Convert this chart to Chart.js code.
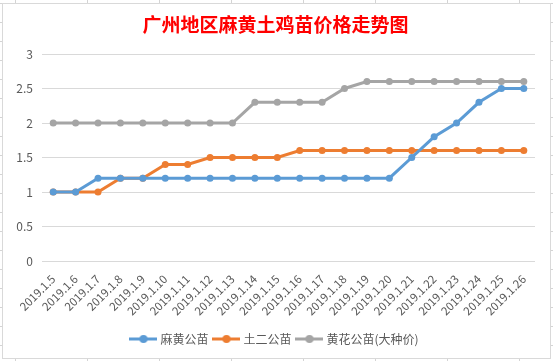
<!DOCTYPE html>
<html>
<head>
<meta charset="utf-8">
<script src="https://cdn.jsdelivr.net/npm/chart.js@4.4.1/dist/chart.umd.min.js"></script>
<style>
  html, body { margin: 0; padding: 0; background: #fff; }
  #wrap { width: 553px; height: 361px; position: relative; }
</style>
</head>
<body>
<div id="wrap"><canvas id="priceChart" width="553" height="361"></canvas></div>
<script>
// chart data
const dates = ['2019.1.5', '2019.1.6', '2019.1.7', '2019.1.8', '2019.1.9', '2019.1.10', '2019.1.11',
    '2019.1.12', '2019.1.13', '2019.1.14', '2019.1.15', '2019.1.16', '2019.1.17', '2019.1.18',
    '2019.1.19', '2019.1.20', '2019.1.21', '2019.1.22', '2019.1.23', '2019.1.24', '2019.1.25', '2019.1.26'];
const mahuang = [1, 1, 1.2, 1.2, 1.2, 1.2, 1.2, 1.2, 1.2, 1.2, 1.2, 1.2, 1.2, 1.2, 1.2, 1.2, 1.5, 1.8, 2.0, 2.3, 2.5, 2.5];
const tuer = [1, 1, 1, 1.2, 1.2, 1.4, 1.4, 1.5, 1.5, 1.5, 1.5, 1.6, 1.6, 1.6, 1.6, 1.6, 1.6, 1.6, 1.6, 1.6, 1.6, 1.6];
const huanghua = [2, 2, 2, 2, 2, 2, 2, 2, 2, 2.3, 2.3, 2.3, 2.3, 2.5, 2.6, 2.6, 2.6, 2.6, 2.6, 2.6, 2.6, 2.6];
const seriesNames = ['麻黄公苗', '土二公苗', '黄花公苗(大种价)'];
const seriesColors = ['#5B9BD5', '#ED7D31', '#A5A5A5'];

const CJK = '"Noto Sans CJK SC", "Noto Sans", sans-serif';

// legend marker: short line with a dot, like Excel
function legendMarker(color) {
    const c = document.createElement('canvas');
    c.width = 28;
    c.height = 10;
    const g = c.getContext('2d');
    g.strokeStyle = color;
    g.lineWidth = 3;
    g.beginPath();
    g.moveTo(0, 5);
    g.lineTo(28, 5);
    g.stroke();
    g.fillStyle = color;
    g.beginPath();
    g.arc(14, 5, 4, 0, Math.PI * 2);
    g.fill();
    return c;
}
const markers = seriesColors.map(legendMarker);

// spreadsheet behind the chart object
const sheetBackground = {
    id: 'sheetBackground',
    beforeDraw(chart) {
        const ctx = chart.ctx;
        ctx.save();
        ctx.fillStyle = '#fff';
        ctx.fillRect(0, 0, chart.width, chart.height);
        ctx.strokeStyle = '#D4D4D4';
        ctx.lineWidth = 1;
        for (let x = 15.5; x < chart.width; x += 72) {
            ctx.beginPath();
            ctx.moveTo(x, 0);
            ctx.lineTo(x, chart.height);
            ctx.stroke();
        }
        for (let y = 3.5; y < chart.height; y += 19) {
            ctx.beginPath();
            ctx.moveTo(0, y);
            ctx.lineTo(chart.width, y);
            ctx.stroke();
        }
        ctx.fillStyle = '#fff';
        ctx.fillRect(3, 4, 547, 354);
        ctx.strokeStyle = '#D9D9D9';
        ctx.strokeRect(2.5, 3.5, 548, 355);
        ctx.restore();
    }
};

function makeDataset(label, data, color) {
    return {
        label: label,
        data: data,
        borderColor: color,
        backgroundColor: color,
        borderWidth: 3,
        pointStyle: 'circle',
        pointRadius: 3.5,
        pointHoverRadius: 4,
        pointBackgroundColor: color,
        pointBorderWidth: 0,
        tension: 0,
        fill: false
    };
}

const ctx = document.getElementById('priceChart').getContext('2d');
const priceChart = new Chart(ctx, {
    type: 'line',
    data: {
        labels: dates,
        datasets: [
            makeDataset(seriesNames[0], mahuang, seriesColors[0]),
            makeDataset(seriesNames[1], tuer, seriesColors[1]),
            makeDataset(seriesNames[2], huanghua, seriesColors[2])
        ]
    },
    options: {
        responsive: false,
        animation: false,
        devicePixelRatio: 1,
        layout: { padding: { left: 16, right: 18, top: 0, bottom: 6 } },
        plugins: {
            title: {
                display: true,
                text: '广州地区麻黄土鸡苗价格走势图',
                color: '#FF0000',
                font: { family: CJK, size: 19, weight: 'bold' },
                padding: { top: 13, bottom: 18.2 }
            },
            legend: {
                position: 'bottom',
                labels: {
                    usePointStyle: true,
                    pointStyleWidth: 22,
                    padding: 7,
                    color: '#595959',
                    font: { family: CJK, size: 12 },
                    generateLabels(chart) {
                        return chart.data.datasets.map((ds, i) => ({
                            text: ds.label,
                            fontColor: '#595959',
                            pointStyle: markers[i],
                            strokeStyle: ds.borderColor,
                            fillStyle: ds.borderColor,
                            lineWidth: 0,
                            hidden: false,
                            datasetIndex: i
                        }));
                    }
                }
            },
            tooltip: { enabled: false }
        },
        scales: {
            x: {
                offset: true,
                grid: { display: false, drawTicks: false },
                border: { display: false },
                ticks: {
                    autoSkip: false,
                    minRotation: 45,
                    maxRotation: 45,
                    padding: 11,
                    color: '#595959',
                    font: { family: CJK, size: 11.5 }
                },
                afterFit(scale) { scale.height = 65; }
            },
            y: {
                min: 0,
                max: 3,
                grid: { color: '#D9D9D9', lineWidth: 1, drawTicks: false },
                border: { display: false },
                ticks: {
                    stepSize: 0.5,
                    padding: 9,
                    color: '#595959',
                    font: { family: CJK, size: 12 },
                    callback: (v) => String(v)
                },
                afterFit(scale) { scale.width = 26; }
            }
        }
    },
    plugins: [sheetBackground]
});
</script>
</body>
</html>
